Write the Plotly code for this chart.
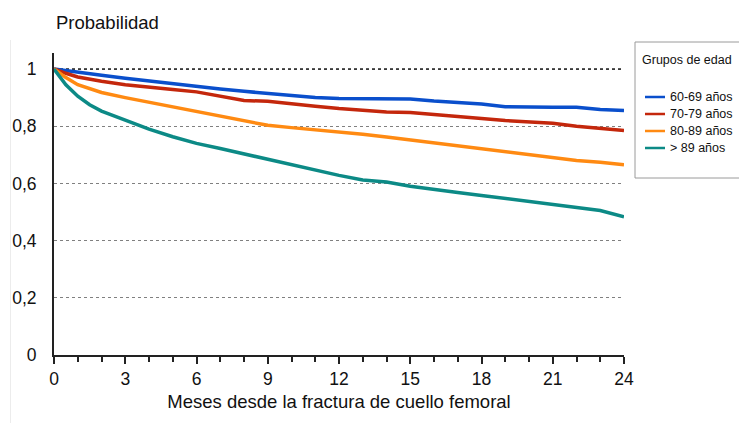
import plotly.graph_objects as go

# Meses de seguimiento y probabilidad de supervivencia por grupo de edad
meses = [0, 0.25, 0.5, 1, 1.5, 2, 3, 4, 5, 6, 7, 8, 9, 10, 11, 12,
         13, 14, 15, 16, 17, 18, 19, 20, 21, 22, 23, 24]

edad_60_69 = [1.0, 0.997, 0.994, 0.99, 0.984, 0.978, 0.968, 0.958, 0.948, 0.938, 0.93, 0.922,
              0.915, 0.908, 0.9, 0.897, 0.897, 0.897, 0.895, 0.888, 0.882, 0.878,
              0.868, 0.866, 0.866, 0.866, 0.858, 0.855]
edad_70_79 = [1.0, 0.992, 0.985, 0.972, 0.964, 0.957, 0.945, 0.935, 0.928, 0.92, 0.905, 0.89,
              0.887, 0.88, 0.87, 0.862, 0.855, 0.85, 0.848, 0.84, 0.835, 0.827,
              0.82, 0.815, 0.81, 0.8, 0.793, 0.785]
edad_80_89 = [1.0, 0.985, 0.97, 0.945, 0.93, 0.918, 0.9, 0.884, 0.868, 0.852, 0.838, 0.82,
              0.803, 0.795, 0.788, 0.78, 0.772, 0.762, 0.752, 0.742, 0.732, 0.722,
              0.71, 0.7, 0.69, 0.68, 0.674, 0.665]
edad_mas_89 = [1.0, 0.97, 0.945, 0.905, 0.875, 0.853, 0.82, 0.79, 0.763, 0.74, 0.722, 0.703,
               0.685, 0.664, 0.648, 0.628, 0.612, 0.605, 0.59, 0.578, 0.568, 0.558,
               0.548, 0.538, 0.528, 0.518, 0.505, 0.483]

grupos = ["60-69 años", "70-79 años", "80-89 años", "> 89 años"]
series = [edad_60_69, edad_70_79, edad_80_89, edad_mas_89]
colores = ["#0a4fcc", "#c4270c", "#ff8a12", "#0c8a86"]

y_ticks = [0, 0.2, 0.4, 0.6, 0.8, 1.0]
y_ticktext = ["0", "0,2", "0,4", "0,6", "0,8", "1"]
x_ticks = [0, 3, 6, 9, 12, 15, 18, 21, 24]

FONT = "Liberation Sans, Arial, Helvetica, sans-serif"
W, H = 739, 423
ML, MR, MT, MB = 54, 115, 53, 68
PW, PH = W - ML - MR, H - MT - MB


def px_x(px):
    return (px - ML) / PW


def px_y(py):
    return (H - MB - py) / PH


fig = go.Figure()

# Línea de referencia en probabilidad 1
fig.add_trace(go.Scatter(x=[0, 24], y=[1, 1], mode="lines",
                         line=dict(color="#222", width=1.6, dash="dot"),
                         hoverinfo="skip", showlegend=False))

for nombre, valores, color in zip(grupos, series, colores):
    fig.add_trace(go.Scatter(x=meses, y=valores, mode="lines", name=nombre,
                             line=dict(color=color, width=3.5),
                             showlegend=False))

# Leyenda dibujada a mano: recuadro, título y muestras de línea
shapes = [
    dict(type="rect", xref="paper", yref="paper",
         x0=px_x(635), x1=px_x(745), y0=px_y(178), y1=px_y(42),
         line=dict(color="#9a9a9a", width=1), fillcolor="rgba(0,0,0,0)"),
    dict(type="line", xref="paper", yref="paper",
         x0=px_x(10.5), x1=px_x(10.5), y0=px_y(423), y1=px_y(40),
         line=dict(color="#ececec", width=1)),
]
annotations = [
    dict(text="Probabilidad", xref="paper", yref="paper", x=px_x(54), y=px_y(22),
         xanchor="left", yanchor="middle", showarrow=False,
         font=dict(family=FONT, size=18.5, color="#111")),
    dict(text="Grupos de edad", xref="paper", yref="paper", x=px_x(640), y=px_y(60),
         xanchor="left", yanchor="middle", showarrow=False,
         font=dict(family=FONT, size=12.5, color="#111")),
]
for i, (nombre, color) in enumerate(zip(grupos, colores)):
    yy = 97 + 17 * i
    shapes.append(dict(type="line", xref="paper", yref="paper",
                       x0=px_x(645), x1=px_x(665), y0=px_y(yy), y1=px_y(yy),
                       line=dict(color=color, width=2.5)))
    annotations.append(dict(text=nombre, xref="paper", yref="paper",
                            x=px_x(668), y=px_y(yy), xanchor="left", yanchor="middle",
                            showarrow=False,
                            font=dict(family=FONT, size=12.5, color="#111")))

fig.update_layout(
    width=W, height=H,
    margin=dict(l=ML, r=MR, t=MT, b=MB, pad=0),
    plot_bgcolor="white", paper_bgcolor="white",
    font=dict(family=FONT, size=17, color="#111"),
    shapes=shapes, annotations=annotations,
    showlegend=False,
)
fig.update_xaxes(
    range=[0, 24], tickvals=x_ticks, ticks="outside", ticklen=7, tickwidth=1.5,
    tickcolor="#222", showline=True, linecolor="#222", linewidth=2,
    showgrid=False, zeroline=False,
    minor=dict(dtick=1, ticks="outside", ticklen=5, tickwidth=1.5, tickcolor="#222",
               showgrid=False),
    tickfont=dict(size=17.5),
    title=dict(text="Meses desde la fractura de cuello femoral",
               font=dict(size=18.5), standoff=7),
)
fig.update_yaxes(
    range=[0, (H - MB - MT) / 286], tickvals=y_ticks, ticktext=y_ticktext,
    ticks="", showline=True, linecolor="#222", linewidth=2,
    showgrid=True, gridcolor="#808080", griddash="dot", gridwidth=1.4,
    zeroline=False, ticklabelstandoff=12, tickfont=dict(size=17.5),
)

fig.write_html("out.html")
